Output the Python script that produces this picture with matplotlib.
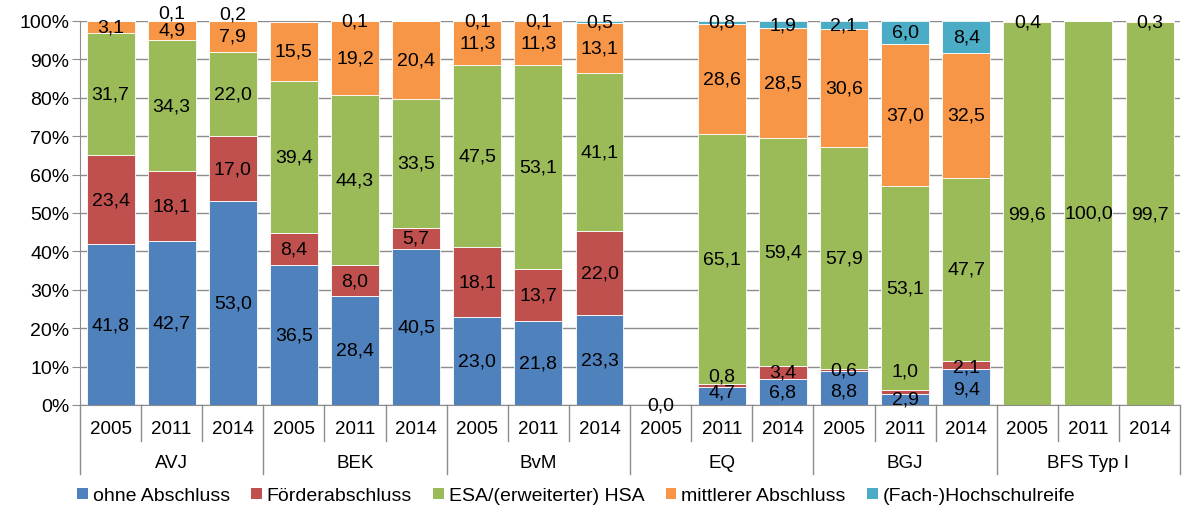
import numpy as np
import matplotlib
matplotlib.use("Agg")
import matplotlib.pyplot as plt
from matplotlib.transforms import blended_transform_factory
from matplotlib.patches import Patch

plt.rcParams["font.family"] = ["Liberation Sans", "DejaVu Sans"]

groups = ["AVJ", "BEK", "BvM", "EQ", "BGJ", "BFS Typ I"]
years = ["2005", "2011", "2014"]

series_names = ["ohne Abschluss", "Förderabschluss", "ESA/(erweiterter) HSA",
                "mittlerer Abschluss", "(Fach-)Hochschulreife"]
colors = ["#4F81BD", "#C0504D", "#9BBB59", "#F79646", "#4BACC6"]

# one value per bar: AVJ, BEK, BvM, EQ, BGJ, BFS Typ I (2005, 2011, 2014 each)
ohne = [41.8, 42.7, 53.0, 36.5, 28.4, 40.5, 23.0, 21.8, 23.3,
        0.0, 4.7, 6.8, 8.8, 2.9, 9.4, None, None, None]
foerder = [23.4, 18.1, 17.0, 8.4, 8.0, 5.7, 18.1, 13.7, 22.0,
           None, 0.8, 3.4, 0.6, 1.0, 2.1, None, None, None]
esa = [31.7, 34.3, 22.0, 39.4, 44.3, 33.5, 47.5, 53.1, 41.1,
       None, 65.1, 59.4, 57.9, 53.1, 47.7, 99.6, 100.0, 99.7]
mittlerer = [3.1, 4.9, 7.9, 15.5, 19.2, 20.4, 11.3, 11.3, 13.1,
             None, 28.6, 28.5, 30.6, 37.0, 32.5, 0.4, None, 0.3]
hochschul = [None, 0.1, 0.2, None, 0.1, None, 0.1, 0.1, 0.5,
             None, 0.8, 1.9, 2.1, 6.0, 8.4, None, None, None]

# small vertical shifts of crowded labels (percentage points)
label_nudge = {(1, 4): 1.9, (2, 4): 1.9, (10, 1): 2.5, (10, 0): 1.0,
               (12, 0): -0.7, (13, 1): 5.5, (14, 1): -0.6, (14, 0): -0.5}

data = np.array([ohne, foerder, esa, mittlerer, hochschul], dtype=float)
n = data.shape[1]
x = np.arange(n)

fig = plt.figure(figsize=(11.83, 5.10), dpi=100)
ax = fig.add_axes([0.0676, 0.204, 0.9300, 0.753])

bottom = np.zeros(n)
for s in range(len(series_names)):
    vals = np.nan_to_num(data[s])
    ax.bar(x, vals, width=0.785, bottom=bottom, color=colors[s],
           edgecolor="white", linewidth=0.6, zorder=2)
    for i in range(n):
        if np.isnan(data[s, i]):
            continue
        yc = bottom[i] + vals[i] / 2 + label_nudge.get((i, s), 0)
        ax.text(x[i], yc, f"{data[s, i]:.1f}".replace(".", ","),
                ha="center", va="center", fontsize=14, color="black",
                zorder=4, clip_on=False)
    bottom = bottom + vals

ax.set_xlim(-0.5, n - 0.5)
ax.set_ylim(0, 100)
ax.set_yticks(np.arange(0, 101, 10))
ax.set_yticklabels([f"{v}%" for v in range(0, 101, 10)], fontsize=14)
ax.yaxis.grid(True, color="#8c8c8c", linewidth=1.0, zorder=0)
ax.set_axisbelow(True)
ax.tick_params(axis="y", length=6, color="#8c8c8c", pad=1.5)
ax.set_xticks([])
for side in ["top", "right"]:
    ax.spines[side].set_visible(False)
ax.spines["left"].set_color("#8c8c8c")
ax.spines["bottom"].set_color("#8c8c8c")

# two-level category axis
trans = blended_transform_factory(ax.transData, ax.transAxes)
year_h = -0.095
group_h = -0.18
for i in range(n + 1):
    xe = i - 0.5
    y_end = group_h if i % 3 == 0 else year_h
    ax.plot([xe, xe], [0, y_end], color="#8c8c8c", linewidth=1.0,
            transform=trans, clip_on=False)
for i in range(n):
    ax.text(x[i], -0.06, years[i % 3], ha="center", va="center",
            fontsize=13.5, transform=trans)
for g, name in enumerate(groups):
    ax.text(g * 3 + 1, -0.15, name, ha="center", va="center",
            fontsize=13.5, transform=trans)

handles = [Patch(facecolor=c, edgecolor="none") for c in colors]
fig.legend(handles, series_names, loc="center", bbox_to_anchor=(0.487, 0.026),
           ncol=5, frameon=False, fontsize=14, handlelength=0.55,
           handleheight=0.55, handletextpad=0.25, columnspacing=1.1,
           borderaxespad=0)

fig.savefig("out.png", dpi=100)
